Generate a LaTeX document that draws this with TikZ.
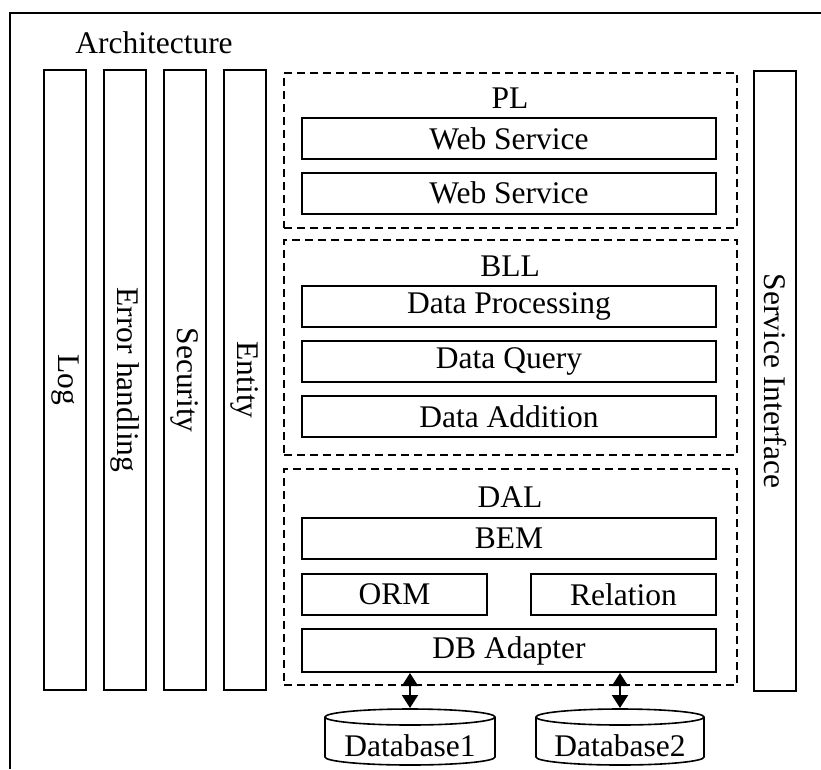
\documentclass[tikz,border=0pt]{standalone}
\usepackage{fontspec}
\setmainfont{Liberation Serif}
\usetikzlibrary{arrows.meta}
\begin{document}
\begin{tikzpicture}[x=1pt,y=-1pt,
  every node/.style={font=\fontsize{31.5}{37}\selectfont},
  solidbox/.style={draw,line width=2pt,inner sep=0pt},
  layerbox/.style={draw,line width=1.6pt,dash pattern=on 8pt off 5pt,inner sep=0pt,minimum width=453pt},
  pillar/.style={solidbox,minimum width=42pt,minimum height=620pt},
  modbox/.style={solidbox,minimum width=414pt,minimum height=41pt},
  halfbox/.style={solidbox,minimum width=185pt,minimum height=41pt},
  dblink/.style={line width=2pt,{Triangle[width=16pt,length=13pt]}-{Triangle[width=16pt,length=13pt]}},
  dbline/.style={line width=1.6pt}]
\useasboundingbox (0,0) rectangle (821,769);

% outer frame
\draw[line width=2pt] (10,769) -- (10,13) -- (821,13);
\node (title) at (154,43) {Architecture};

% cross-cutting pillars
\node[pillar] (log)   at (65,380)  {};
\node[pillar] (err)   at (125,380) {};
\node[pillar] (sec)   at (185,380) {};
\node[pillar] (ent)   at (245,380) {};
\node[pillar] (svc)   at (775,381) {};
\node[rotate=-90] at (log)  {Log};
\node[rotate=-90] at (err)  {Error handling};
\node[rotate=-90] at (sec)  {Security};
\node[rotate=-90] at (ent)  {Entity};
\node[rotate=-90] at (svc)  {Service Interface};

% presentation layer
\node[layerbox,minimum height=155pt] (pl) at (510.5,150.5) {};
\node (pllabel) at (510,98) {PL};
\node[modbox] (ws1) at (509,138.5) {Web Service};
\node[modbox] (ws2) at (509,193) {Web Service};

% business logic layer
\node[layerbox,minimum height=215pt] (bll) at (510.5,347.5) {};
\node (blllabel) at (510,266) {BLL};
\node[modbox] (dp) at (509,306.5) {Data Processing};
\node[modbox] (dq) at (509,361.5) {Data Query};
\node[modbox] (da) at (509,416.5) {Data Addition};

% data access layer
\node[layerbox,minimum height=216pt] (dal) at (510.5,577) {};
\node (dallabel) at (510,497) {DAL};
\node[modbox] (bem) at (509,538.5) {BEM};
\node[halfbox] (orm) at (394.5,594.5) {ORM};
\node[halfbox] (rel) at (623.5,594.5) {Relation};
\node[modbox,minimum height=43pt] (dba) at (509,650.5) {DB Adapter};

% databases
\draw[dbline] (325,717) -- (325,757) arc[start angle=180,end angle=0,x radius=85,y radius=8] -- (495,717);
\draw[dbline] (410,717) ellipse [x radius=85,y radius=8];
\coordinate (db1top) at (410,708);
\node (db1) at (410,746) {Database1};

\draw[dbline] (536,717) -- (536,757) arc[start angle=180,end angle=0,x radius=84,y radius=8] -- (704,717);
\draw[dbline] (620,717) ellipse [x radius=84,y radius=8];
\coordinate (db2top) at (620,708);
\node (db2) at (620,746) {Database2};

% adapter links
\draw[dblink] (dba.south -| db1top) -- (db1top);
\draw[dblink] (dba.south -| db2top) -- (db2top);
\end{tikzpicture}
\end{document}
